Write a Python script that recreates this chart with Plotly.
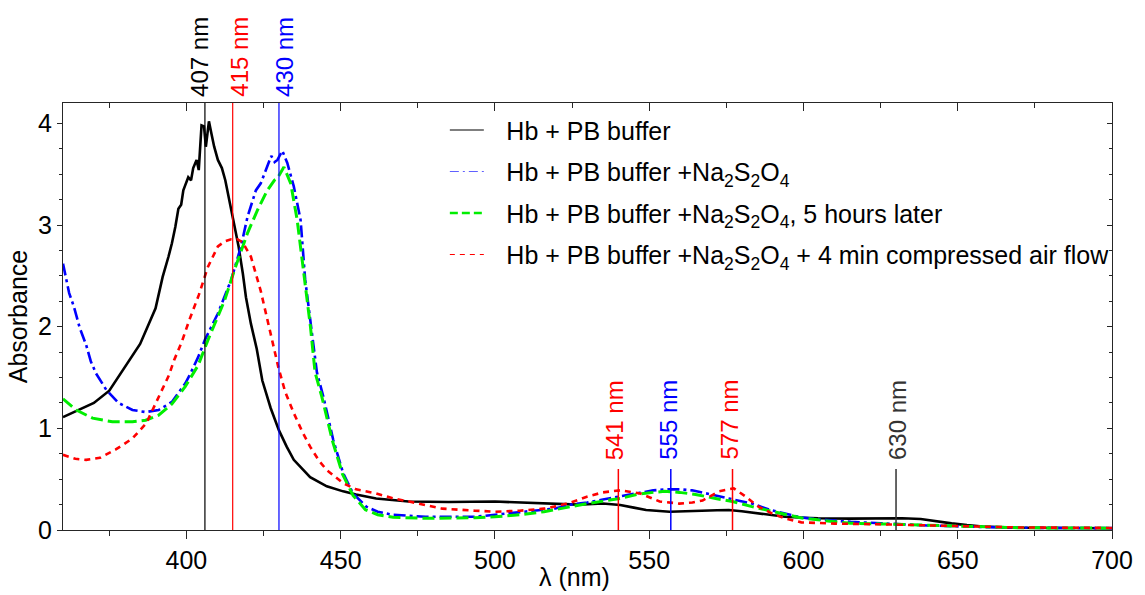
import plotly.graph_objects as go

# ---------------- data ----------------
wl_black = [360, 365, 370, 375, 380, 385, 390, 392.3, 394.2, 395.3, 396.4, 397.4, 398.3, 399.0, 399.6,
            400.6, 401.5, 402.2, 403.3, 404.0, 404.9, 405.7, 406.3, 407.3, 408.1, 409.0, 410.2, 411.5,
            412.6, 413.7, 414.7, 415.8, 416.9, 418.3, 419.3, 420.9, 422.8, 424.6, 427.3, 430, 432.5,
            434.8, 437.5, 440.1, 445.5, 450.8, 455, 461.5, 472, 485, 500, 510, 519, 527, 535, 540.6,
            545, 549, 556.6, 562, 567, 572, 575.8, 580, 584, 590, 594, 600, 604.7, 615, 625, 632,
            638, 643, 648, 653, 658, 667.7, 680, 690, 700]
abs_black = [1.11, 1.18, 1.25, 1.37, 1.60, 1.83, 2.18, 2.49, 2.69, 2.82, 2.98, 3.16, 3.20, 3.34, 3.39,
             3.47, 3.44, 3.56, 3.64, 3.54, 3.98, 3.97, 3.77, 4.02, 3.90, 3.77, 3.64, 3.56,
             3.44, 3.28, 3.11, 2.95, 2.79, 2.52, 2.29, 2.03, 1.78, 1.47, 1.20, 0.98, 0.82,
             0.69, 0.60, 0.52, 0.43, 0.38, 0.35, 0.31, 0.28, 0.275, 0.28, 0.27, 0.256, 0.25, 0.26, 0.246,
             0.22, 0.197, 0.18, 0.182, 0.19, 0.195, 0.197, 0.185, 0.17, 0.145, 0.13, 0.12, 0.115, 0.112, 0.115, 0.115,
             0.108, 0.085, 0.065, 0.048, 0.035, 0.023, 0.02, 0.018, 0.017]

wl_blue = [360, 362, 363.5, 365.4, 367.5, 369, 370.7, 372.5, 374, 378, 382.5, 386.8, 391, 395.3, 399.6,
           401, 403.8, 406, 410.2, 414.5, 417.7, 419.8, 422.5, 424.1, 426.2, 427.5, 428.6, 429.5,
           431.1, 432.7, 434.8, 437, 438.5, 441.2, 442.3, 444.4, 447.6, 450.8, 454, 458.3, 462,
           466.8, 477.5, 493.5, 500, 508, 515.9, 519.2, 524.6, 529.9, 535, 540.6, 545, 551.3, 555.5,
           559.8, 563.9, 567.3, 571.5, 575.8, 583.3, 589, 593.9, 599, 604.6, 615.3, 625, 640, 657,
           670, 700]
abs_blue = [2.62, 2.33, 2.20, 1.99, 1.82, 1.66, 1.54, 1.45, 1.38, 1.25, 1.18, 1.16, 1.18, 1.26, 1.44,
            1.52, 1.70, 1.87, 2.13, 2.46, 2.79, 3.08, 3.34, 3.41, 3.57, 3.68, 3.62, 3.64,
            3.73, 3.61, 3.38, 3.05, 2.46, 1.80, 1.55, 1.31, 0.885, 0.56, 0.36, 0.23, 0.18,
            0.15, 0.13, 0.13, 0.15, 0.17, 0.20, 0.21, 0.25, 0.27, 0.30, 0.33, 0.36, 0.39, 0.40,
            0.40, 0.39, 0.37, 0.34, 0.31, 0.26, 0.20, 0.16, 0.125, 0.105, 0.08, 0.066, 0.045, 0.03,
            0.022, 0.018]

wl_green = [360, 364.3, 369.6, 376, 382.5, 386.8, 391, 395.3, 399.6, 401.7, 403.8, 407, 412.4, 415.6,
            419.8, 423.1, 426.2, 428.5, 429.5, 431.6, 433.8, 435.9, 438, 440.2, 441.7, 443.9, 447.3,
            450.6, 454, 458, 462, 467, 477.5, 493.5, 500, 508, 515.9, 519.2, 524.6, 530, 540.6, 546,
            551.3, 555, 559.8, 565, 571.5, 577, 583.3, 589, 593.9, 599, 604.6, 615.3, 625, 640, 657,
            670, 700]
abs_green = [1.29, 1.18, 1.10, 1.065, 1.065, 1.08, 1.13, 1.24, 1.41, 1.51, 1.62, 1.87, 2.26, 2.56,
             2.92, 3.15, 3.34, 3.44, 3.46, 3.57, 3.41, 3.05, 2.52, 2.00, 1.55, 1.31, 0.88,
             0.55, 0.34, 0.20, 0.15, 0.125, 0.115, 0.12, 0.13, 0.15, 0.18, 0.20, 0.23, 0.26, 0.31, 0.35,
             0.37, 0.38, 0.37, 0.35, 0.31, 0.28, 0.23, 0.19, 0.15, 0.12, 0.10, 0.066, 0.06, 0.045, 0.03,
             0.022, 0.018]

wl_red = [360, 364, 367.5, 372, 377, 382.5, 387, 391, 394.3, 396, 398.5, 401, 404, 407, 410.2, 412.5,
          414.5, 416.5, 418.2, 420.9, 424.1, 427.3, 429.8, 432, 434.8, 437.5, 440.1, 443, 445.5, 450.8,
          455, 461.5, 467, 472.2, 482.9, 493.5, 500, 508, 515.9, 519.2, 524.6, 530, 535, 540.6, 547,
          553.4, 559.8, 564, 567.3, 572.6, 577.4, 581.2, 585.4, 590, 593.9, 599.3, 605, 610, 625, 640,
          657, 670, 700]
abs_red = [0.74, 0.70, 0.69, 0.71, 0.79, 0.90, 1.05, 1.31, 1.52, 1.67, 1.85, 2.07, 2.31, 2.59, 2.79, 2.84,
           2.86, 2.86, 2.83, 2.69, 2.35, 1.93, 1.60, 1.36, 1.15, 0.97, 0.82, 0.68, 0.59, 0.46,
           0.40, 0.36, 0.31, 0.28, 0.21, 0.19, 0.18, 0.19, 0.21, 0.23, 0.27, 0.33, 0.37, 0.39, 0.36,
           0.28, 0.26, 0.27, 0.29, 0.38, 0.41, 0.33, 0.23, 0.16, 0.115, 0.075, 0.066, 0.063, 0.056, 0.045,
           0.03, 0.025, 0.02]

series_names = [
    "Hb + PB buffer",
    "Hb + PB buffer +Na<sub>2</sub>S<sub>2</sub>O<sub>4</sub>",
    "Hb + PB buffer +Na<sub>2</sub>S<sub>2</sub>O<sub>4</sub>, 5 hours later",
    "Hb + PB buffer +Na<sub>2</sub>S<sub>2</sub>O<sub>4</sub> + 4 min compressed air flow",
]

# peak marker lines (line position in nm) and their labels
top_peak_nm = [406, 415, 430]
top_peak_labels = ["407 nm", "415 nm", "430 nm"]
bottom_peak_nm = [540, 557, 577, 630]
bottom_peak_labels = ["541 nm", "555 nm", "577 nm", "630 nm"]
bottom_line_height = 0.6

x_range = [360, 700]
y_range = [0, 4.2]

# ---------------- styles ----------------
FONT = "Arial, 'Liberation Sans', sans-serif"
FS = 25
AX = "#262626"
series_style = [
    dict(color="black", width=2.6, dash="solid"),
    dict(color="#0000ff", width=2.6, dash="12px,4px,3px,4px"),
    dict(color="#00ee00", width=3.0, dash="12px,5px"),
    dict(color="#ff0000", width=2.6, dash="6px,5px"),
]
legend_style = [
    dict(color="black", width=1.2, dash="solid"),
    dict(color="#6060ff", width=1.2, dash="9px,4px,2px,4px"),
    dict(color="#00ee00", width=2.6, dash="8px,4px"),
    dict(color="#ff0000", width=1.2, dash="5px,5px"),
]
top_colors = ["black", "#ff0000", "#0000ff"]
top_shift = [-6, 6, 5]
bottom_colors = ["#ff0000", "#0000ff", "#ff0000", "#333333"]
bottom_shift = [-4, -3, -4, 1]
GAP = "\u2002\u2009"

fig = go.Figure()

data = [(wl_black, abs_black), (wl_blue, abs_blue), (wl_green, abs_green), (wl_red, abs_red)]
for (x, y), st in zip(data, series_style):
    fig.add_trace(go.Scatter(x=x, y=y, mode="lines", line=st, showlegend=False, hoverinfo="skip"))

# legend entries
for i, (nm, st) in enumerate(zip(series_names, legend_style)):
    fig.add_trace(go.Scatter(x=[None], y=[None], mode="lines", name=GAP + nm, line=st,
                             legendgroup=f"g{i}", showlegend=True))

# mirror axes dummy
fig.add_trace(go.Scatter(x=[None], y=[None], xaxis="x2", yaxis="y2", showlegend=False, hoverinfo="skip"))

shapes = []
annotations = []
for nm, lab, c, sh in zip(top_peak_nm, top_peak_labels, top_colors, top_shift):
    shapes.append(dict(type="line", xref="x", yref="paper", x0=nm, x1=nm, y0=0, y1=1,
                       line=dict(color=c, width=1.2), layer="above"))
    annotations.append(dict(x=nm, xref="x", y=1, yref="paper", yanchor="bottom", xanchor="center",
                            text=lab, textangle=-90, showarrow=False, xshift=sh, yshift=4,
                            font=dict(family=FONT, size=FS - 1, color=c)))
for nm, lab, c, sh in zip(bottom_peak_nm, bottom_peak_labels, bottom_colors, bottom_shift):
    shapes.append(dict(type="line", xref="x", yref="y", x0=nm, x1=nm, y0=0, y1=bottom_line_height,
                       line=dict(color=c, width=1.5), layer="above"))
    annotations.append(dict(x=nm, xref="x", y=bottom_line_height, yref="y", yanchor="bottom",
                            xanchor="center", text=lab, textangle=-90, showarrow=False,
                            xshift=sh, yshift=7, font=dict(family=FONT, size=FS - 1, color=c)))

annotations.append(dict(x=0.488, xref="paper", y=0, yref="paper", yanchor="top", xanchor="center",
                        text="λ (nm)", showarrow=False, yshift=-31,
                        font=dict(family=FONT, size=FS, color="black")))

axis_common = dict(showline=True, linecolor=AX, linewidth=1.4, showgrid=False, zeroline=False,
                   tickcolor=AX, tickwidth=1.4, mirror=False)

fig.update_layout(
    width=1145, height=595,
    margin=dict(l=63, r=21, t=103, b=65),
    paper_bgcolor="white", plot_bgcolor="white",
    font=dict(family=FONT, size=FS, color="black"),
    shapes=shapes, annotations=annotations,
    xaxis=dict(range=x_range, dtick=50, tick0=0, ticks="outside", ticklen=8,
               minor=dict(dtick=25, tick0=0, ticks="outside", ticklen=5, tickcolor=AX, tickwidth=1.4),
               tickfont=dict(size=FS), **axis_common),
    yaxis=dict(range=y_range, dtick=1, tick0=0, ticks="outside", ticklen=5,
               minor=dict(dtick=0.25, tick0=0, ticks="outside", ticklen=3, tickcolor=AX, tickwidth=1.4),
               tickfont=dict(size=FS), title=dict(text="Absorbance", standoff=3, font=dict(size=FS)),
               **axis_common),
    xaxis2=dict(range=x_range, overlaying="x", side="top", anchor="y2", dtick=50, tick0=0,
                ticks="inside", ticklen=8, showticklabels=False,
                minor=dict(dtick=25, tick0=0, ticks="inside", ticklen=5, tickcolor=AX, tickwidth=1.4),
                **axis_common),
    yaxis2=dict(range=y_range, overlaying="y", side="right", anchor="x2", dtick=1, tick0=0,
                ticks="inside", ticklen=5, showticklabels=False,
                minor=dict(dtick=0.25, tick0=0, ticks="inside", ticklen=3, tickcolor=AX, tickwidth=1.4),
                **axis_common),
    legend=dict(x=0.364, y=0.99, xanchor="left", yanchor="top", bgcolor="rgba(0,0,0,0)",
                font=dict(family=FONT, size=FS, color="black"), tracegroupgap=6, itemwidth=34),
    showlegend=True,
)

fig.write_html("out.html")
